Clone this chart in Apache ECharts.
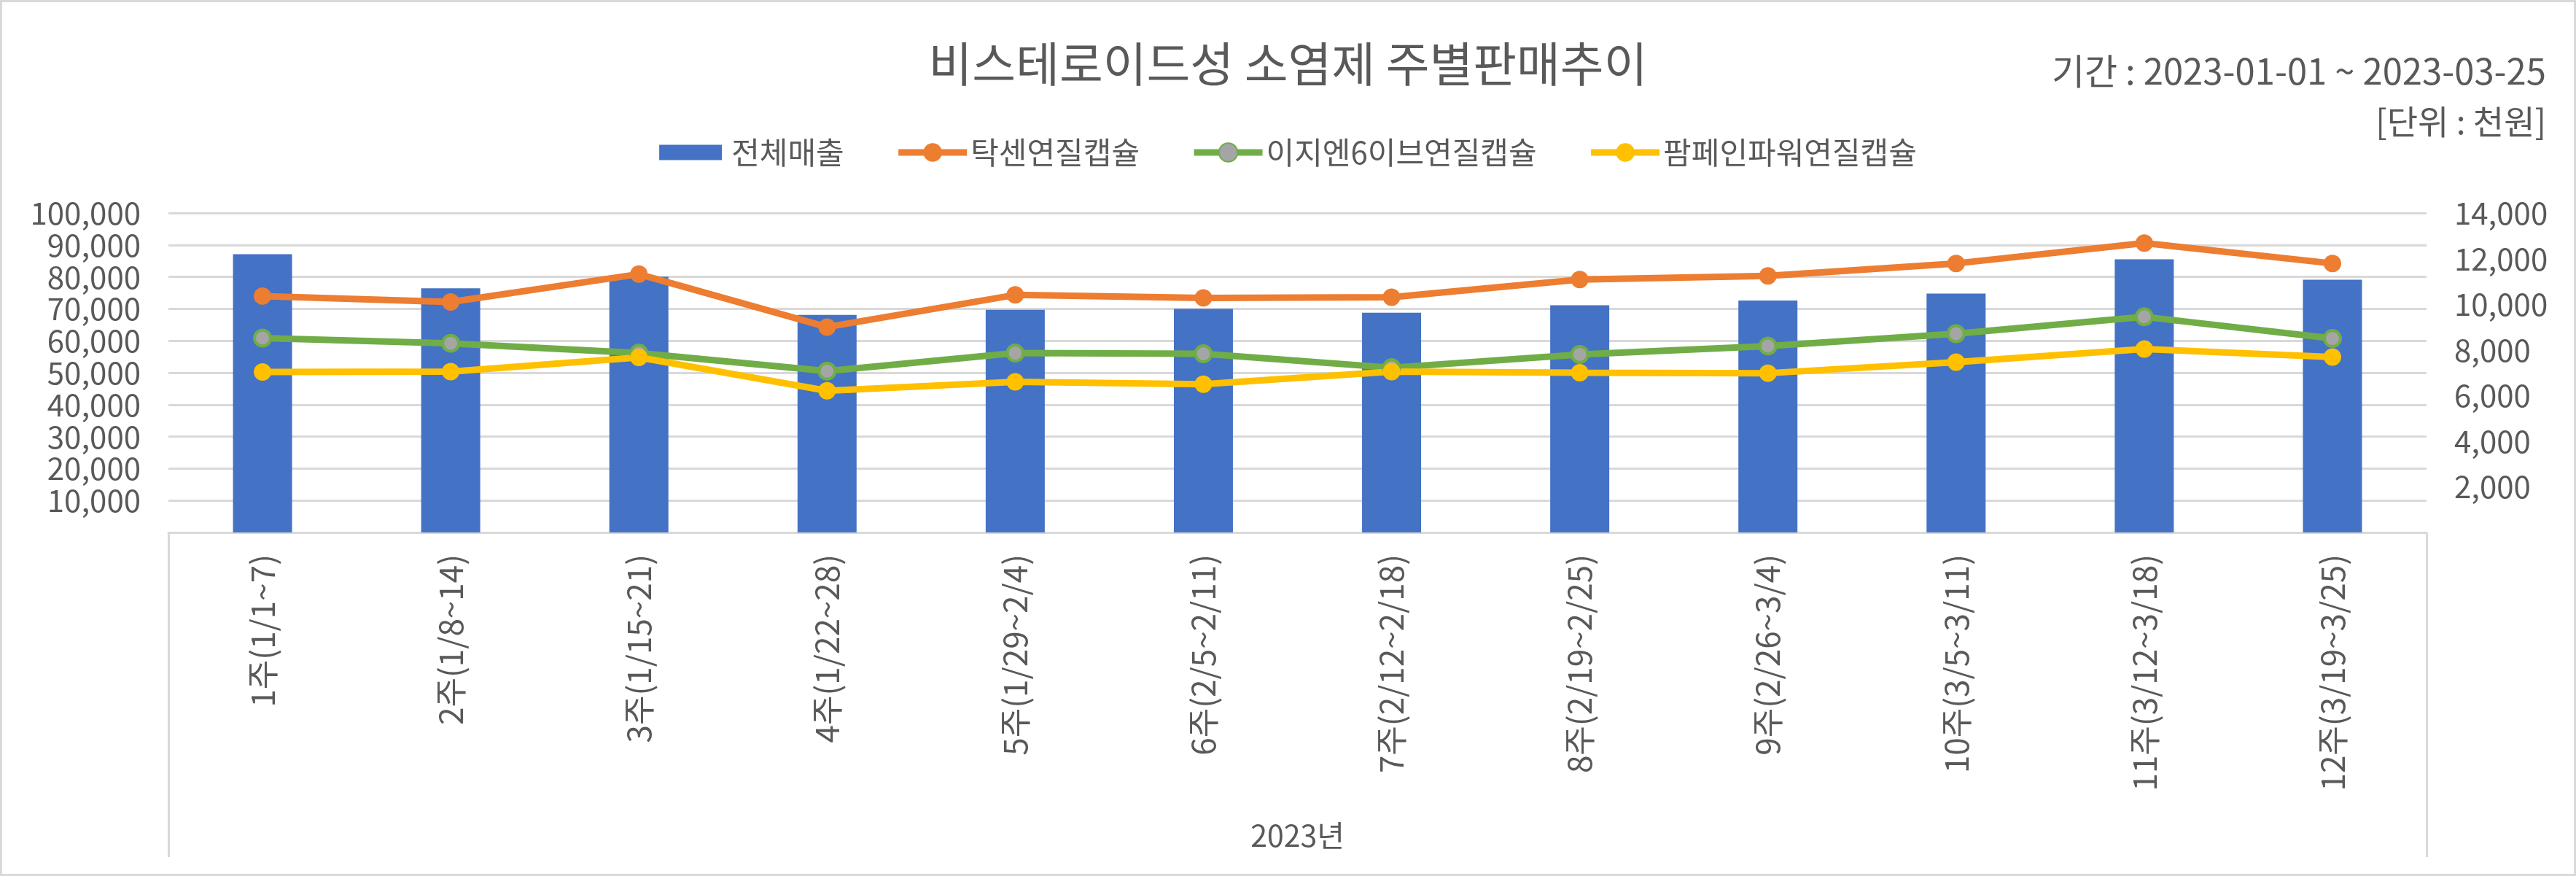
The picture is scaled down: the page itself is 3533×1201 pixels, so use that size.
<!DOCTYPE html>
<html>
<head>
<meta charset="utf-8">
<script src="https://cdn.jsdelivr.net/npm/echarts@6/dist/echarts.min.js"></script>
<style>
html,body{margin:0;padding:0;background:#fff;}
#chart{width:3533px;height:1201px;}
</style>
</head>
<body>
<div id="chart"></div>
<script>
const categories = ['1주(1/1~7)','2주(1/8~14)','3주(1/15~21)','4주(1/22~28)','5주(1/29~2/4)','6주(2/5~2/11)','7주(2/12~2/18)','8주(2/19~2/25)','9주(2/26~3/4)','10주(3/5~3/11)','11주(3/12~3/18)','12주(3/19~3/25)'];
const yearLabel = ['2023년'];
const totalSales = [87100, 76400, 80000, 68100, 69700, 70000, 68800, 71100, 72600, 74800, 85500, 79100];
const taxen = [10360, 10100, 11320, 9000, 10410, 10280, 10310, 11080, 11240, 11790, 12680, 11790];
const ezn6 = [8520, 8290, 7860, 7070, 7860, 7830, 7220, 7800, 8170, 8710, 9450, 8500];
const pampain = [7030, 7050, 7670, 6210, 6600, 6500, 7050, 7000, 6980, 7460, 8040, 7690];
const seriesNames = ['전체매출', '탁센연질캡슐', '이지엔6이브연질캡슐', '팜페인파워연질캡슐'];
const leftTicks = {min: 0, max: 100000, interval: 10000};
const rightTicks = {min: 0, max: 14000, interval: 2000};

const FONT = "'Noto Sans CJK KR', 'Noto Sans', sans-serif";
const TXT = '#595959';
const GRID = '#D9D9D9';
const fmt = v => v === 0 ? '' : v.toLocaleString('en-US');
const barIcon = 'path://M0,0L0.01,0M94,0L94,0.01M0,5.5L86,5.5L86,26.5L0,26.5ZM0,32L0.01,32M94,32L94,31.99';

const chart = echarts.init(document.getElementById('chart'), null, {renderer: 'canvas'});
chart.setOption({
  backgroundColor: '#fff',
  textStyle: {fontFamily: FONT, color: TXT},
  title: [
    {text: '비스테로이드성 소염제 주별판매추이', left: 'center', top: 50,
     textStyle: {fontFamily: FONT, fontSize: 65, fontWeight: 'normal', color: TXT}},
    {text: '기간 : 2023-01-01 ~ 2023-03-25', right: 36, top: 68,
     textStyle: {fontFamily: FONT, fontSize: 49, fontWeight: 'normal', color: TXT}},
    {text: '[단위 : 천원]', right: 36, top: 139,
     textStyle: {fontFamily: FONT, fontSize: 46, fontWeight: 'normal', color: TXT}}
  ],
  legend: {
    top: 180, left: 'center', itemWidth: 94, itemHeight: 32, itemGap: 70,
    lineStyle: {width: 9},
    textStyle: {fontFamily: FONT, fontSize: 42, color: TXT, lineHeight: 48},
    data: [{name: seriesNames[0], icon: barIcon}, seriesNames[1], seriesNames[2], seriesNames[3]]
  },
  grid: {left: 231, right: 205, top: 292, bottom: 471, containLabel: false},
  graphic: [
    {type: 'rect', silent: true, shape: {x: 1.5, y: 1.5, width: 3530, height: 1198},
     style: {fill: 'none', stroke: GRID, lineWidth: 3}}
  ],
  xAxis: [
    {type: 'category', data: categories, position: 'bottom',
     axisLine: {show: true, lineStyle: {color: GRID, width: 3}},
     axisTick: {show: false},
     axisLabel: {rotate: 90, margin: 30, fontSize: 44, color: TXT, fontFamily: FONT, interval: 0}},
    {type: 'category', data: yearLabel, position: 'bottom',
     axisLine: {show: false},
     axisTick: {show: true, length: 445, lineStyle: {color: GRID, width: 3}},
     axisLabel: {margin: 395, fontSize: 41, color: TXT, fontFamily: FONT}}
  ],
  yAxis: [
    {type: 'value', min: leftTicks.min, max: leftTicks.max, interval: leftTicks.interval, position: 'left',
     axisLine: {show: false}, axisTick: {show: false},
     splitLine: {show: true, lineStyle: {color: GRID, width: 3}},
     axisLabel: {formatter: fmt, fontSize: 42, color: TXT, margin: 38, fontFamily: FONT}},
    {type: 'value', min: rightTicks.min, max: rightTicks.max, interval: rightTicks.interval, position: 'right',
     axisLine: {show: false}, axisTick: {show: false}, splitLine: {show: false},
     axisLabel: {formatter: fmt, fontSize: 42, color: TXT, margin: 38, fontFamily: FONT}}
  ],
  series: [
    {name: seriesNames[0], type: 'bar', data: totalSales, barWidth: 81, yAxisIndex: 0,
     itemStyle: {color: '#4472C4'}},
    {name: seriesNames[1], type: 'line', data: taxen, yAxisIndex: 1, symbol: 'circle', symbolSize: 24,
     lineStyle: {color: '#ED7D31', width: 9}, itemStyle: {color: '#ED7D31'}},
    {name: seriesNames[2], type: 'line', data: ezn6, yAxisIndex: 1, symbol: 'circle', symbolSize: 22,
     lineStyle: {color: '#70AD47', width: 9}, itemStyle: {color: '#A5A5A5', borderColor: '#70AD47', borderWidth: 4}},
    {name: seriesNames[3], type: 'line', data: pampain, yAxisIndex: 1, symbol: 'circle', symbolSize: 24,
     lineStyle: {color: '#FFC000', width: 9}, itemStyle: {color: '#FFC000'}}
  ],
  animation: false
});
</script>
</body>
</html>
